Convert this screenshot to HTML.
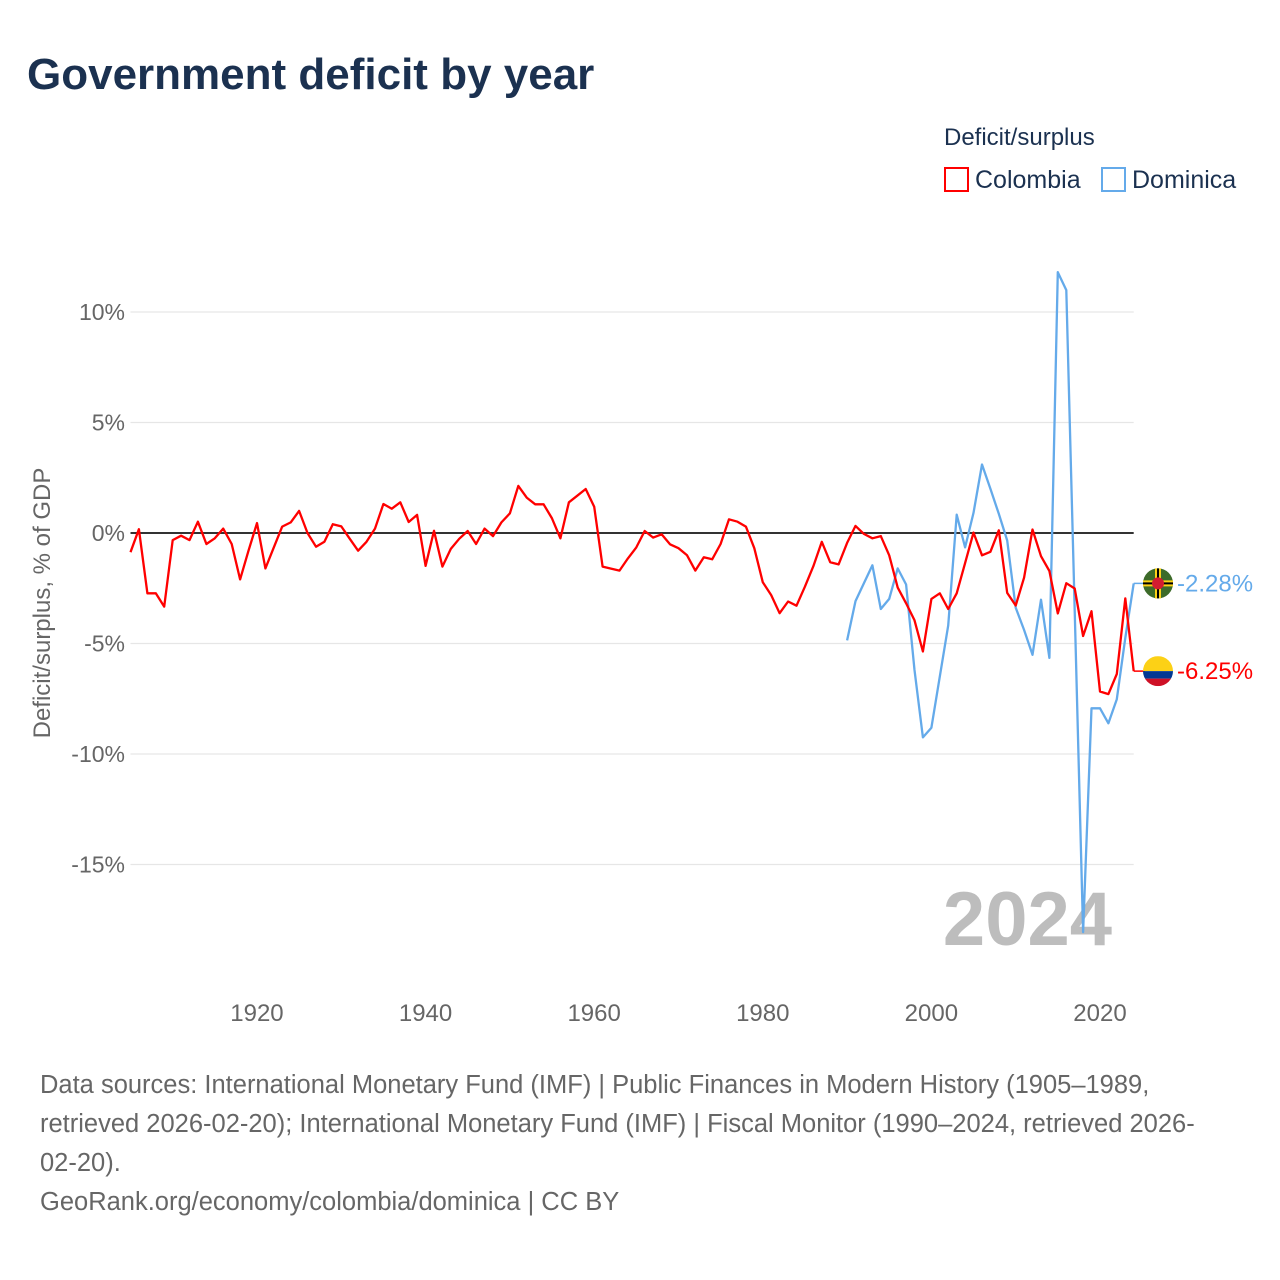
<!DOCTYPE html>
<html><head><meta charset="utf-8"><style>
body{margin:0;background:#fff;font-family:"Liberation Sans",sans-serif;}
#wrap{position:relative;width:1280px;height:1280px;overflow:hidden;}
.t{position:absolute;white-space:nowrap;}
</style></head><body>
<div id="wrap">
<div class="t" style="left:27px;top:50px;font-size:44px;font-weight:bold;color:#1b3150;">Government deficit by year</div>
<div class="t" style="left:944px;top:124px;font-size:24px;color:#1b3150;">Deficit/surplus</div>
<div class="t" style="left:944px;top:166px;font-size:25px;color:#1b3150;"><span style="display:inline-block;width:21px;height:21px;border:2px solid #f00;vertical-align:-4px;margin-right:6px;"></span>Colombia</div>
<div class="t" style="left:1101px;top:166px;font-size:25px;color:#1b3150;"><span style="display:inline-block;width:21px;height:21px;border:2px solid #64aaea;vertical-align:-4px;margin-right:6px;"></span>Dominica</div>
<svg id="chart" width="1280" height="1280" style="position:absolute;left:0;top:0;"></svg>
<div class="t" style="left:40px;top:1066px;font-size:25.5px;line-height:39px;color:#666;">Data sources: International Monetary Fund (IMF) | Public Finances in Modern History (1905–1989,<br>retrieved 2026-02-20); International Monetary Fund (IMF) | Fiscal Monitor (1990–2024, retrieved 2026-<br>02-20).<br>GeoRank.org/economy/colombia/dominica | CC BY</div>
</div>
<script>
const colYears0 = 1905;
const colombia = [-0.87,0.17,-2.73,-2.73,-3.33,-0.32,-0.12,-0.32,0.51,-0.5,-0.24,0.2,-0.5,-2.1,-0.8,0.45,-1.6,-0.65,0.29,0.48,1.0,0,-0.62,-0.4,0.4,0.3,-0.26,-0.8,-0.4,0.2,1.31,1.1,1.39,0.5,0.82,-1.49,0.1,-1.52,-0.72,-0.26,0.09,-0.5,0.2,-0.14,0.48,0.89,2.13,1.6,1.3,1.3,0.66,-0.24,1.39,1.69,1.99,1.19,-1.52,-1.61,-1.7,-1.15,-0.65,0.09,-0.21,-0.06,-0.51,-0.69,-1.0,-1.7,-1.1,-1.19,-0.5,0.62,0.51,0.29,-0.69,-2.23,-2.81,-3.63,-3.1,-3.29,-2.43,-1.5,-0.4,-1.32,-1.42,-0.45,0.32,-0.04,-0.24,-0.14,-1.01,-2.47,-3.18,-3.95,-5.36,-2.98,-2.73,-3.44,-2.73,-1.36,0.02,-1.01,-0.85,0.12,-2.71,-3.28,-2.02,0.16,-1.05,-1.72,-3.64,-2.27,-2.51,-4.66,-3.54,-7.17,-7.29,-6.38,-2.96,-6.25];
const domYears0 = 1990;
const dominica = [-4.86,-3.08,-2.27,-1.46,-3.44,-2.98,-1.6,-2.33,-6.2,-9.25,-8.81,-6.5,-4.19,0.83,-0.65,0.91,3.1,2.0,0.87,-0.34,-3.38,-4.39,-5.51,-3.02,-5.65,11.8,10.99,-3.5,-18.06,-7.93,-7.93,-8.61,-7.52,-4.75,-2.28];
const yTicks = [10,5,0,-5,-10,-15];
const xTicks = [1920,1940,1960,1980,2000,2020];
const svg = document.getElementById('chart');
const NS='http://www.w3.org/2000/svg';
const X0=130.5,X1=1133.7,Y0=533,PPU=22.1;
const xs = y => X0+(y-1905)*(X1-X0)/(2024-1905);
const ys = v => Y0-v*PPU;
function mk(tag,attrs,parent){const e=document.createElementNS(NS,tag);for(const k in attrs)e.setAttribute(k,attrs[k]);(parent||svg).appendChild(e);return e;}
yTicks.forEach(v=>{
  const g=mk('line',{x1:X0,x2:X1,y1:ys(v),y2:ys(v),stroke:v===0?'#333':'#e6e6e6','stroke-width':v===0?2:1.2});
  
  
  const t=mk('text',{x:125,y:ys(v)+8,'text-anchor':'end','font-size':23,fill:'#666','font-family':'Liberation Sans, sans-serif'});
  t.textContent=v+'%';
  
  
});
xTicks.forEach(y=>{
  const t=mk('text',{x:xs(y),y:1021,'text-anchor':'middle','font-size':24,fill:'#666','font-family':'Liberation Sans, sans-serif'});
  t.textContent=y;
  
  
});
const yt=mk('text',{x:0,y:0,transform:'translate(50,603) rotate(-90)','text-anchor':'middle','font-size':24,fill:'#666','font-family':'Liberation Sans, sans-serif'});
yt.textContent='Deficit/surplus, % of GDP';


const yr=mk('text',{x:1112,y:945,'text-anchor':'end','font-size':76,'font-weight':'bold',fill:'#bdbdbd','font-family':'Liberation Sans, sans-serif'});
yr.textContent='2024';


function series(arr,y0,color,name){
  const pts=arr.map((v,i)=>xs(y0+i).toFixed(1)+','+ys(v).toFixed(1)).join(' ');
  const p=mk('polyline',{points:pts,fill:'none',stroke:color,'stroke-width':2.3,'stroke-linejoin':'round'});
  
  
  const last=arr[arr.length-1], ly=ys(last);
  const c=mk('line',{x1:X1,x2:1145,y1:ly,y2:ly,stroke:color,'stroke-width':1.5});
  
  
  const t=mk('text',{x:1177,y:ly+8,'font-size':24,fill:color,'font-family':'Liberation Sans, sans-serif'});
  t.textContent=last.toFixed(2)+'%';
  
  
  return ly;
}
series(dominica,domYears0,'#64aaea','dominica');
series(colombia,colYears0,'#ff0000','colombia');
const dy=ys(dominica[dominica.length-1]), cy=ys(colombia[colombia.length-1]);
const fd=mk('g',{});


mk('circle',{cx:1158,cy:dy,r:15,fill:'#3d6b2a'},fd);
mk('rect',{x:1143,y:dy-3,width:30,height:6,fill:'#fcd116'},fd);
mk('rect',{x:1155,y:dy-15,width:6,height:30,fill:'#fcd116'},fd);
mk('rect',{x:1143,y:dy-1,width:30,height:2,fill:'#000'},fd);
mk('rect',{x:1157,y:dy-15,width:2,height:30,fill:'#000'},fd);
mk('circle',{cx:1158,cy:dy,r:6,fill:'#d41c30'},fd);
const fc=mk('g',{});


mk('clipPath',{id:'cc'},fc);
mk('circle',{cx:1158,cy:cy,r:15},document.getElementById('cc'));
mk('rect',{x:1143,y:cy-15,width:30,height:15,fill:'#fcd116','clip-path':'url(#cc)'},fc);
mk('rect',{x:1143,y:cy,width:30,height:7.5,fill:'#003893','clip-path':'url(#cc)'},fc);
mk('rect',{x:1143,y:cy+7.5,width:30,height:7.5,fill:'#ce1126','clip-path':'url(#cc)'},fc);
</script>
</body></html>
